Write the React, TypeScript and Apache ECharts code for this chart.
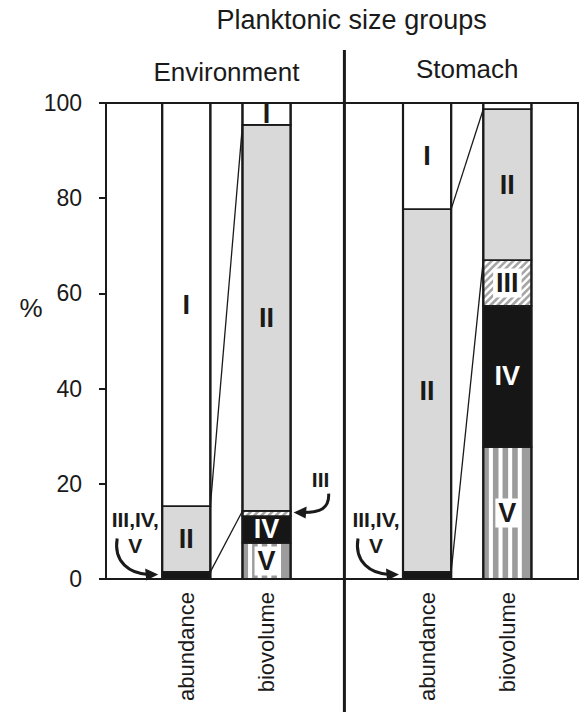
import React, { useEffect, useRef } from 'react';
import * as echarts from 'echarts';

// ---------- data ----------
const abundanceGroups = ['I', 'II', 'III,IV,V'];
const biovolumeGroups = ['I', 'II', 'III', 'IV', 'V'];
const envAbundance = [84.7, 13.8, 1.5];
const envBiovolume = [4.6, 81.1, 1.1, 5.6, 7.6];
const stomachAbundance = [22.3, 76.2, 1.5];
const stomachBiovolume = [1.3, 31.7, 9.6, 29.7, 27.7];
const barNames = ['abundance', 'biovolume', 'abundance', 'biovolume'];
const barPositions = [1, 2, 4, 5];
const panelNames = ['Environment', 'Stomach'];
const panelCenters = [1.5, 4.5];
const dividerPosition = 2.97;
const titleText = 'Planktonic size groups';
const yAxisName = '%';
const yTicks = [0, 20, 40, 60, 80, 100];
const connectorPairs = [
  ['III,IV,V', 'III'],
  ['II', 'II'],
];
const annotations = [
  { bar: 0, group: 'III,IV,V', text: 'III,IV,\nV', side: 'left' },
  { bar: 1, group: 'III', text: 'III', side: 'right' },
  { bar: 2, group: 'III,IV,V', text: 'III,IV,\nV', side: 'left' },
];
const labelThreshold = 3;

// ---------- style ----------
const FONT = '"Liberation Sans", Arial, Helvetica, sans-serif';
const INK = '#1a1a1a';
const BAR_W = 0.6;

const bars = [
  { x: barPositions[0], groups: abundanceGroups, values: envAbundance },
  { x: barPositions[1], groups: biovolumeGroups, values: envBiovolume },
  { x: barPositions[2], groups: abundanceGroups, values: stomachAbundance },
  { x: barPositions[3], groups: biovolumeGroups, values: stomachBiovolume },
];

type Seg = { bar: number; x: number; lo: number; hi: number; group: string; value: number };
const segments: Seg[] = [];
bars.forEach((b, bi) => {
  let acc = 0;
  for (let i = b.groups.length - 1; i >= 0; i--) {
    const v = b.values[i];
    segments.push({ bar: bi, x: b.x, lo: acc, hi: acc + v, group: b.groups[i], value: v });
    acc += v;
  }
});
const segOf = (bi: number, g: string) => segments.find((s) => s.bar === bi && s.group === g)!;

const connectors: number[][] = [];
[[0, 1], [2, 3]].forEach(([a, b]) => {
  connectorPairs.forEach(([ga, gb]) => {
    connectors.push([
      bars[a].x + BAR_W / 2,
      segOf(a, ga).hi,
      bars[b].x - BAR_W / 2,
      segOf(b, gb).hi,
    ]);
  });
});

const annotationData = annotations.map((a) => {
  const s = segOf(a.bar, a.group);
  const x = a.side === 'left' ? s.x - BAR_W / 2 : s.x + BAR_W / 2;
  return [x, (s.lo + s.hi) / 2];
});

function segmentChildren(s: Seg, x0: number, y0: number, w: number, h: number) {
  const children: any[] = [];
  const g = s.group;
  let fill = '#ffffff';
  if (g === 'II') fill = '#d9d9d9';
  if (g === 'IV' || g === 'III,IV,V') fill = '#161616';
  if (g === 'V') fill = '#9c9c9c';
  children.push({ type: 'rect', shape: { x: x0, y: y0, width: w, height: h }, style: { fill } });
  if (g === 'V') {
    const period = w / 5;
    const white = period * 0.42;
    for (let k = 0; k < 4; k++) {
      children.push({
        type: 'rect',
        shape: { x: x0 + period * (k + 1) - white, y: y0, width: white, height: h },
        style: { fill: '#ffffff' },
      });
    }
  }
  if (g === 'III') {
    const step = 7.2;
    const x1 = x0 + w;
    const y1 = y0 + h;
    for (let c = x0 + y0 + 2; c < x1 + y1; c += step) {
      const xa = Math.max(x0, c - y1);
      const xb = Math.min(x1, c - y0);
      if (xb > xa) {
        children.push({
          type: 'line',
          shape: { x1: xa, y1: c - xa, x2: xb, y2: c - xb },
          style: { stroke: '#a6a6a6', lineWidth: 2.6 },
        });
      }
    }
  }
  children.push({
    type: 'rect',
    shape: { x: x0, y: y0, width: w, height: h },
    style: { fill: 'none', stroke: INK, lineWidth: 1.8 },
  });
  if (s.value >= labelThreshold && g !== 'III,IV,V') {
    const boxed = g === 'III' || g === 'V';
    children.push({
      type: 'text',
      z2: 10,
      style: {
        text: g,
        x: x0 + w / 2,
        y: y0 + h / 2,
        align: 'center',
        verticalAlign: 'middle',
        fontSize: 27,
        fontWeight: 'bold',
        fontFamily: FONT,
        fill: g === 'IV' ? '#ffffff' : INK,
        backgroundColor: boxed ? '#ffffff' : undefined,
        padding: boxed ? [2, 3, 0, 3] : 0,
      },
    });
  }
  return children;
}

export default function App() {
  const ref = useRef<HTMLDivElement>(null);
  useEffect(() => {
    document.body.style.margin = '0';
    const chart = echarts.init(ref.current!, null, { renderer: 'svg' });
    chart.setOption({
      animation: false,
      textStyle: { fontFamily: FONT, color: INK },
      grid: {
        left: 106,
        right: 2,
        top: 103,
        bottom: 133,
        show: true,
        borderColor: INK,
        borderWidth: 2,
        backgroundColor: 'transparent',
      },
      xAxis: {
        type: 'value',
        min: 0,
        max: 5.88,
        interval: 1,
        splitLine: { show: false },
        axisTick: { show: false },
        axisLine: { show: false },
        axisLabel: {
          rotate: 90,
          margin: 13,
          fontSize: 22,
          color: INK,
          fontFamily: FONT,
          showMaxLabel: false,
          formatter: (v: number) => {
            const i = barPositions.indexOf(v);
            return i >= 0 ? barNames[i] : '';
          },
        },
      },
      yAxis: {
        type: 'value',
        min: yTicks[0],
        max: yTicks[yTicks.length - 1],
        interval: yTicks[1] - yTicks[0],
        splitLine: { show: false },
        axisLine: { show: true, lineStyle: { color: INK, width: 2 } },
        axisTick: { show: true, length: 7, lineStyle: { color: INK, width: 2 } },
        axisLabel: { fontSize: 23, color: INK, margin: 24, fontFamily: FONT },
      },
      series: [
        {
          type: 'custom',
          name: 'segments',
          z: 2,
          clip: false,
          encode: { x: 0, y: [1, 2] },
          data: segments.map((s) => [s.x, s.lo, s.hi]),
          renderItem: (params: any, api: any) => {
            const s = segments[params.dataIndex];
            const pTop = api.coord([s.x, s.hi]);
            const pBot = api.coord([s.x, s.lo]);
            const w = api.size([BAR_W, 0])[0];
            return {
              type: 'group',
              children: segmentChildren(s, pTop[0] - w / 2, pTop[1], w, pBot[1] - pTop[1]),
            };
          },
        },
        {
          type: 'custom',
          name: 'connectors',
          z: 3,
          clip: false,
          encode: { x: [0, 2], y: [1, 3] },
          data: connectors,
          renderItem: (params: any, api: any) => {
            const a = api.coord([api.value(0), api.value(1)]);
            const b = api.coord([api.value(2), api.value(3)]);
            return {
              type: 'line',
              shape: { x1: a[0], y1: a[1], x2: b[0], y2: b[1] },
              style: { stroke: INK, lineWidth: 1.3 },
            };
          },
        },
        {
          type: 'custom',
          name: 'outlines',
          z: 4,
          clip: false,
          encode: { x: 0, y: [1, 2] },
          data: bars.map((b) => [b.x, 0, b.values.reduce((p, c) => p + c, 0)]),
          renderItem: (params: any, api: any) => {
            const t = api.coord([api.value(0), api.value(2)]);
            const bt = api.coord([api.value(0), api.value(1)]);
            const w = api.size([BAR_W, 0])[0];
            return {
              type: 'rect',
              shape: { x: t[0] - w / 2, y: t[1], width: w, height: bt[1] - t[1] },
              style: { fill: 'none', stroke: INK, lineWidth: 2.2 },
            };
          },
        },
        {
          type: 'custom',
          name: 'annotations',
          z: 5,
          clip: false,
          encode: { x: 0, y: 1 },
          data: annotationData,
          renderItem: (params: any, api: any) => {
            const a = annotations[params.dataIndex];
            const p = api.coord([api.value(0), api.value(1)]);
            const arrowStyle = { stroke: INK, lineWidth: 3, fill: 'none' };
            const textStyle = {
              text: a.text,
              align: 'center',
              verticalAlign: 'middle',
              fontSize: 21,
              fontWeight: 'bold',
              fontFamily: FONT,
              lineHeight: 26,
              fill: INK,
            };
            if (a.side === 'left') {
              const tx = p[0] - 4;
              const ty = p[1] - 1;
              return {
                type: 'group',
                children: [
                  { type: 'text', style: { ...textStyle, x: tx - 23, y: ty - 42 } },
                  {
                    type: 'bezierCurve',
                    shape: { x1: tx - 41, y1: ty - 36, cpx1: tx - 45, cpy1: ty - 12, cpx2: tx - 28, cpy2: ty - 1, x2: tx - 10, y2: ty },
                    style: arrowStyle,
                  },
                  {
                    type: 'polygon',
                    shape: { points: [[tx, ty], [tx - 13, ty - 6], [tx - 12, ty + 6]] },
                    style: { fill: INK },
                  },
                ],
              };
            }
            const tx = p[0] + 3;
            const ty = p[1] - 1;
            return {
              type: 'group',
              children: [
                { type: 'text', style: { ...textStyle, x: tx + 27, y: ty - 33 } },
                {
                  type: 'bezierCurve',
                  shape: { x1: tx + 35, y1: ty - 19, cpx1: tx + 36, cpy1: ty - 4, cpx2: tx + 26, cpy2: ty, x2: tx + 10, y2: ty },
                  style: arrowStyle,
                },
                {
                  type: 'polygon',
                  shape: { points: [[tx, ty], [tx + 13, ty - 6], [tx + 12, ty + 6]] },
                  style: { fill: INK },
                },
              ],
            };
          },
        },
      ],
    });

    const px = (x: number) => chart.convertToPixel({ gridIndex: 0 }, [x, 0])[0];
    const yMid = chart.convertToPixel({ gridIndex: 0 }, [0, 57])[1];
    chart.setOption({
      graphic: [
        {
          type: 'text',
          style: { text: titleText, x: px(3.06), y: 20, align: 'center', verticalAlign: 'middle', fontSize: 27, fontFamily: FONT, fill: INK },
        },
        {
          type: 'text',
          style: { text: panelNames[0], x: px(panelCenters[0]), y: 72, align: 'center', verticalAlign: 'middle', fontSize: 26, fontFamily: FONT, fill: INK },
        },
        {
          type: 'text',
          style: { text: panelNames[1], x: px(panelCenters[1]), y: 69, align: 'center', verticalAlign: 'middle', fontSize: 26, fontFamily: FONT, fill: INK },
        },
        {
          type: 'text',
          style: { text: yAxisName, x: 31, y: yMid, align: 'center', verticalAlign: 'middle', fontSize: 26, fontFamily: FONT, fill: INK },
        },
        {
          type: 'line',
          z: 10,
          shape: { x1: px(dividerPosition), y1: 50, x2: px(dividerPosition), y2: 712 },
          style: { stroke: INK, lineWidth: 3 },
        },
      ],
    });
    return () => chart.dispose();
  }, []);
  return <div ref={ref} style={{ width: 580, height: 712 }} />;
}
